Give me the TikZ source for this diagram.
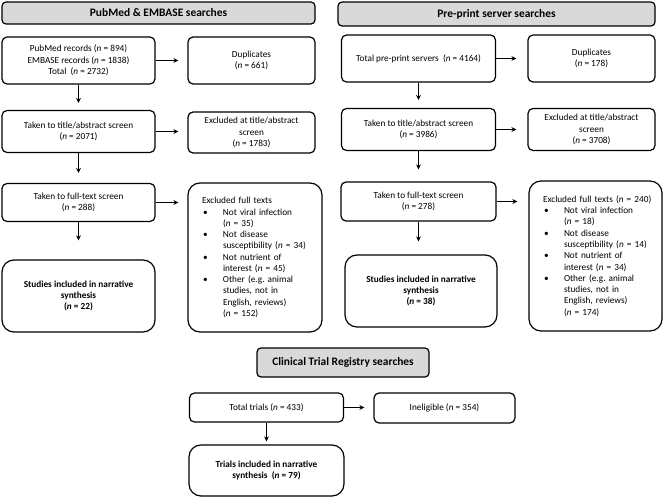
\documentclass[tikz,border=0pt]{standalone}
\usepackage{fontspec}
\setmainfont{Carlito}
\usetikzlibrary{arrows.meta}
\definecolor{hdrgray}{RGB}{217,217,217}
\newcommand\itn{\textit{n}}
\newcommand\blt{\makebox[21bp][l]{\hspace{1bp}\textbullet}}
\newcommand\bind{\makebox[21bp]{}}
\frenchspacing
\begin{document}
\begin{tikzpicture}[x=1bp,y=-1bp,
  box/.style={draw, line width=1.2bp, rounded corners=5bp, align=center, inner sep=1bp, font=\fontsize{9.3}{11.3}\selectfont},
  bigbox/.style={box, rounded corners=12bp},
  boldbox/.style={bigbox, font=\bfseries\fontsize{9.3}{11.3}\selectfont},
  listbox/.style={bigbox, align=left, text width=106bp, inner xsep=14bp},
  hdr/.style={draw, line width=1.2bp, rounded corners=4bp, fill=hdrgray, inner sep=1bp, font=\bfseries\fontsize{11.5}{13}\selectfont},
  arr/.style={-{Stealth[length=5bp,width=5bp]}, line width=1.1bp}]
\useasboundingbox (0,0) rectangle (664,497);
% left column
\node[hdr, minimum width=313bp, minimum height=22bp] (hdrL) at (158.5,13) {PubMed \& EMBASE searches};
\node[box, minimum width=153bp, minimum height=47bp] (a1) at (78.5,60.5) {PubMed records (\itn{} = 894)\\EMBASE records (\itn{} = 1838)\\Total\ \ (\itn{} = 2732)};
\node[box, minimum width=127bp, minimum height=47bp] (d1) at (251.5,60.5) {Duplicates\\(\itn{} = 661)};
\node[box, minimum width=153bp, minimum height=42bp] (a2) at (78.5,131.5) {Taken to title/abstract screen\\(\itn{} = 2071)};
\node[box, minimum width=127bp, minimum height=41bp] (e1) at (251.5,132.5) {Excluded at title/abstract\\screen\\(\itn{} = 1783)};
\node[box, minimum width=153bp, minimum height=38bp] (a3) at (78.5,202.5) {Taken to full-text screen\\(\itn{} = 288)};
\node[boldbox, minimum width=153bp, minimum height=72bp] (s1) at (78.5,296) {Studies included in narrative\\synthesis\\(\itn{} = 22)};
\node[listbox, minimum height=149bp] (f1) at (255,257.5) {\mbox{Excluded full texts}\\
\blt Not viral infection\\
\bind (\itn{} = 35)\\
\blt Not disease\\
\bind \mbox{susceptibility (\itn{} = 34)}\\
\blt Not nutrient of\\
\bind interest (\itn{} = 45)\\
\blt \mbox{Other (e.g. animal}\\
\bind studies, not in\\
\bind \mbox{English, reviews)}\\
\bind (\itn{} = 152)};
\draw[arr, shorten >=9bp] (a1) -- (d1);
\draw[arr, shorten >=9bp] (a2.east) -- (a2.east -| e1.west);
\draw[arr, shorten >=9bp] (a3.east) -- (a3.east -| f1.west);
\draw[arr, shorten >=7bp] (a1) -- (a2);
\draw[arr, shorten >=10bp] (a2) -- (a3);
\draw[arr, shorten >=19bp] (a3) -- (s1);
% right column
\node[hdr, minimum width=317bp, minimum height=24bp] (hdrR) at (496.5,14) {Pre-print server searches};
\node[box, minimum width=154bp, minimum height=47bp] (b1) at (418.5,58.5) {Total pre-print servers\ \ (\itn{} = 4164)};
\node[box, minimum width=127bp, minimum height=47bp] (d2) at (591.5,58.5) {Duplicates\\(\itn{} = 178)};
\node[box, minimum width=154bp, minimum height=42bp] (b2) at (418.5,129.5) {Taken to title/abstract screen\\(\itn{} = 3986)};
\node[box, minimum width=127bp, minimum height=42bp] (e2) at (591.5,129.5) {Excluded at title/abstract\\screen\\(\itn{} = 3708)};
\node[box, minimum width=155bp, minimum height=39bp] (b3) at (418.5,201.5) {Taken to full-text screen\\(\itn{} = 278)};
\node[boldbox, minimum width=152bp, minimum height=72bp] (s2) at (421,291) {Studies included in narrative\\synthesis\\(\itn{} = 38)};
\node[listbox, text width=105bp, minimum height=150bp] (f2) at (595.5,256) {\mbox{Excluded full texts (\itn{} = 240)}\\
\blt Not viral infection\\
\bind (\itn{} = 18)\\
\blt Not disease\\
\bind \mbox{susceptibility (\itn{} = 14)}\\
\blt Not nutrient of\\
\bind interest (\itn{} = 34)\\
\blt \mbox{Other (e.g. animal}\\
\bind studies, not in\\
\bind \mbox{English, reviews)}\\
\bind (\itn{} = 174)};
\draw[arr, shorten >=11bp] (b1) -- (d2);
\draw[arr, shorten >=11bp] (b2) -- (e2);
\draw[arr, shorten >=11bp] (b3.east) -- (b3.east -| f2.west);
\draw[arr, shorten >=8bp] (b1) -- (b2);
\draw[arr, shorten >=12bp] (b2) -- (b3);
\draw[arr, shorten >=13bp] (b3.south) -- (b3.south |- s2.north);
% clinical trials
\node[hdr, minimum width=172bp, minimum height=29bp] (hdrC) at (343,362.5) {Clinical Trial Registry searches};
\node[box, minimum width=154bp, minimum height=29bp] (c1) at (266.5,407.5) {Total trials (\itn{} = 433)};
\node[box, minimum width=141bp, minimum height=30bp] (i1) at (444.5,408) {Ineligible (\itn{} = 354)};
\node[boldbox, minimum width=155bp, minimum height=51bp] (c2) at (266.5,470.5) {Trials included in narrative\\synthesis\ \ (\itn{} = 79)};
\draw[arr, shorten >=9bp] (c1.east) -- (c1.east -| i1.west);
\draw[arr, shorten >=3bp] (c1.south) -- (c1.south |- c2.north);
\end{tikzpicture}
\end{document}
